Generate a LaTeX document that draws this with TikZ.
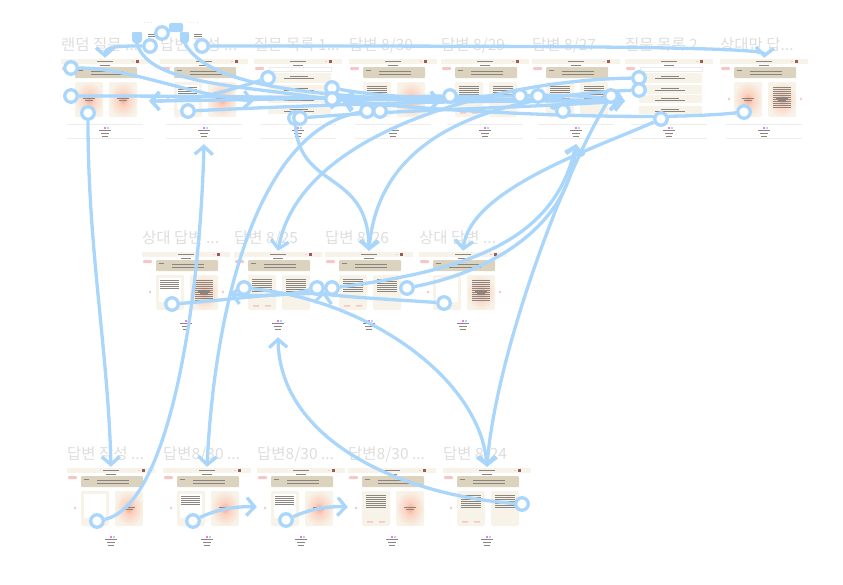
\documentclass[tikz,border=0pt]{standalone}
\usepackage{fontspec}
\setmainfont{Noto Sans CJK KR}
\usetikzlibrary{arrows.meta,backgrounds}
\definecolor{linkblue}{HTML}{A9D6FA}
\definecolor{cardcream}{HTML}{F8F3E8}
\definecolor{bartan}{HTML}{DCD3BF}
\definecolor{glowred}{HTML}{FBA98F}
\definecolor{glowmid}{HTML}{FBD3C2}
\definecolor{tagpink}{HTML}{F7C6C6}
\definecolor{titlegray}{HTML}{DDDDDD}
\definecolor{inkgray}{HTML}{8A857E}
\definecolor{badgered}{HTML}{9A5B5B}
\pgfdeclareradialshading{cardshade}{\pgfpoint{0bp}{0bp}}{color(0bp)=(glowred);color(9bp)=(glowmid);color(26bp)=(cardcream);color(50bp)=(cardcream)}

\newcommand{\tanbox}{\fill[bartan,rounded corners=1pt] (14,8) rectangle (76,19);
  \draw[tiny] (17,11)--(22,11) (30,12.5)--(62,12.5) (30,15)--(62,15);}
\newcommand{\cardglow}[1]{\shade[shading=cardshade,rounded corners=2pt] (#1,23) rectangle ++(28,35);
  \draw[tiny] (#1+8,39)--(#1+20,39) (#1+10,41)--(#1+18,41);}
\newcommand{\cardtext}[1]{\fill[cardcream,rounded corners=2pt] (#1,23) rectangle ++(28,35);
  \foreach \yy in {27,29,...,39} {\draw[tiny] (#1+4,\yy)--(#1+24,\yy);}}
\newcommand{\cardtag}[1]{\cardtext{#1}
  \fill[tagpink] (#1+5,53) rectangle ++(6,1.6) (#1+17,53) rectangle ++(6,1.6);}
\newcommand{\cardblank}[1]{\fill[cardcream,rounded corners=2pt] (#1,23) rectangle ++(28,35);
  \fill[white] (#1+3,26) rectangle ++(22,24);}
\newcommand{\cardinset}[1]{\cardblank{#1}
  \foreach \yy in {28,30,...,36} {\draw[tiny] (#1+4,\yy)--(#1+23,\yy);}}
\newcommand{\cardhot}[1]{\cardglow{#1}
  \foreach \yy in {28,30,...,48} {\draw[tiny] (#1+5,\yy)--(#1+23,\yy);}}
\newcommand{\listrows}{\draw[black!8,line width=.3pt] (15,8) rectangle (77,12);
  \foreach \ya/\yb in {14/24,26/35,36/44,47/55} {
    \fill[cardcream] (14,\ya) rectangle (77,\yb);
    \draw[tiny] (36,\ya+3)--(54,\ya+3) (30,\ya+5.5)--(60,\ya+5.5);}}
\newcommand{\dotmark}[1]{\fill[tagpink] (#1,40) circle (1.4);}
\newcommand{\footrule}{\draw[black!7,line width=.4pt] (6,65)--(82,65) (6,79)--(82,79);}

% name, x, y, title, what stands inside
\newcommand{\screen}[5]{
  \begin{scope}[shift={(#2,#3)}]
    \node[frame] (#1) at (44,42) {};
    \node[frametitle] at (0,-14) {#4};
    \fill[cardcream] (0,0) rectangle (88,4.5);
    \draw[tiny] (36,2.2)--(52,2.2) (39,6)--(49,6);
    \fill[tagpink] (71,1.5) rectangle ++(2,1.5);
    \fill[badgered] (75,1) rectangle ++(2.5,2.5);
    \fill[tagpink,rounded corners=1pt] (1,8) rectangle (10,11);
    #5
    \fill[tagpink!60!magenta] (42.5,67.5) rectangle ++(2,2);
    \fill[linkblue] (46,67.5) rectangle ++(1.5,2);
    \draw[tiny] (38,71)--(50,71) (40,74.5)--(48,74.5) (41,77.5)--(47,77.5);
  \end{scope}}

\tikzset{
  frame/.style={rectangle,minimum width=88pt,minimum height=86pt,inner sep=0pt},
  frametitle/.style={anchor=west,inner sep=0pt,text=titlegray,font=\fontsize{15.5}{15.5}\selectfont},
  tiny/.style={inkgray,line width=.35pt},
  hotspot/.style={circle,draw=linkblue,fill=white,line width=3.3pt,minimum size=12.5pt,inner sep=0pt},
  link/.style={draw=linkblue,line width=3.3pt,-{Straight Barb[length=8pt,width=18pt]}},
  flagbox/.style={rectangle,fill=linkblue,rounded corners=2pt,inner sep=0pt,minimum width=14pt,minimum height=9pt},
  dots/.style={text=black!35,font=\fontsize{6}{6}\selectfont,inner sep=0pt}
}

\begin{document}
\begin{tikzpicture}[x=1pt,y=-1pt]
  \useasboundingbox (0,0) rectangle (843,584);

  % hot spots, on top of everything
  \node[hotspot] (ha) at (71,68) {};
  \node[hotspot] (hb) at (71,96) {};
  \node[hotspot] (hc) at (88,113) {};
  \node[hotspot] (hd) at (150,46) {};
  \node[hotspot] (he) at (202,46) {};
  \node[hotspot] (hf) at (162,33) {};
  \node[hotspot] (hg) at (188,111) {};
  \node[hotspot] (hh) at (268,78) {};
  \node[hotspot] (hi) at (295,118) {};
  \node[hotspot] (hj) at (300,118) {};
  \node[hotspot] (hk) at (332,88) {};
  \node[hotspot] (hl) at (332,99) {};
  \node[hotspot] (hm) at (367,111) {};
  \node[hotspot] (hn) at (380,111) {};
  \node[hotspot] (ho) at (450,96) {};
  \node[hotspot] (hp) at (520,96) {};
  \node[hotspot] (hq) at (538,96) {};
  \node[hotspot] (hr) at (563,111) {};
  \node[hotspot] (hs) at (611,96) {};
  \node[hotspot] (ht) at (639,78) {};
  \node[hotspot] (hu) at (639,90) {};
  \node[hotspot] (hv) at (661,119) {};
  \node[hotspot] (hw) at (744,112) {};
  \node[hotspot] (hx) at (172,304) {};
  \node[hotspot] (hy) at (244,288) {};
  \node[hotspot] (hz) at (317,288) {};
  \node[hotspot] (ia) at (332,288) {};
  \node[hotspot] (ib) at (407,288) {};
  \node[hotspot] (ic) at (444,303) {};
  \node[hotspot] (id) at (97,521) {};
  \node[hotspot] (ie) at (193,521) {};
  \node[hotspot] (if) at (286,520) {};
  \node[hotspot] (ig) at (522,504) {};

  \begin{scope}[on background layer]
    % top row
    \screen{rand}{61}{59}{랜덤 질문 ...}{\tanbox\cardglow{14}\cardglow{48}\footrule}
    \screen{write}{160}{59}{답변 작성 ...}{\tanbox\cardinset{14}\cardglow{48}\dotmark{8}\footrule}
    \screen{lista}{254}{59}{질문 목록 1...}{\listrows\footrule}
    \screen{ans30}{349}{59}{답변 8/30}{\tanbox\cardtext{14}\cardglow{48}\dotmark{8}\footrule}
    \screen{ans29}{441}{59}{답변 8/29}{\tanbox\cardtag{14}\cardtext{48}\footrule}
    \screen{ans27}{532}{59}{답변 8/27}{\tanbox\cardtext{14}\cardtext{48}\footrule}
    \screen{listb}{625}{59}{질문 목록 2}{\listrows\footrule}
    \screen{only}{720}{59}{상대만 답...}{\tanbox\cardglow{14}\cardhot{48}\dotmark{9}\dotmark{81}\footrule}
    % middle row
    \screen{oppa}{142}{252}{상대 답변 ...}{\tanbox\cardinset{14}\cardhot{48}\dotmark{8}\dotmark{81}}
    \screen{ans25}{234}{252}{답변 8/25}{\tanbox\cardtag{14}\cardtext{48}}
    \screen{ans26}{325}{252}{답변 8/26}{\tanbox\cardtag{14}\cardtext{48}}
    \screen{oppb}{419}{252}{상대 답변 ...}{\tanbox\cardblank{14}\cardhot{48}\dotmark{9}\dotmark{81}}
    % bottom row
    \screen{wra}{67}{468}{답변 작성 ...}{\tanbox\cardblank{14}\cardglow{48}\dotmark{8}}
    \screen{wrb}{163}{468}{답변8/30 ...}{\tanbox\cardinset{14}\cardglow{48}\dotmark{8}}
    \screen{wrc}{257}{468}{답변8/30 ...}{\tanbox\cardinset{14}\cardglow{48}\dotmark{8}}
    \screen{wrd}{348}{468}{답변8/30 ...}{\tanbox\cardtag{14}\cardglow{48}\dotmark{8}}
    \screen{ans24}{443}{468}{답변 8/24}{\tanbox\cardtag{14}\cardtext{48}\dotmark{8}}

    % flow starts
    \node[dots] at (148,23) {. . .};
    \node[dots] at (194,23) {. . .};
    \draw[tiny] (148,34)--(156,34) (148,36)--(156,36) (194,34)--(202,34) (194,36)--(202,36);
    \fill[linkblue,rounded corners=1pt] (132,32) -- (142,32) -- (142,41) -- (137,45) -- (132,41) -- cycle;
    \fill[linkblue,rounded corners=1pt] (180,32) -- (189,32) -- (189,41) -- (185,45) -- (180,41) -- cycle;
    \node[flagbox] (pill) at (176,27.5) {};
    \coordinate (flaga) at (137,44);
    \coordinate (flagb) at (185,44);

    % links
    \draw[link] (hd) .. controls (120,46) and (105,46) .. (rand.north);
    \draw[link] (he) .. controls (500,46) and (765,46) .. (only.north);
    \draw[link,-] (hf) -- (pill);
    \draw[link] (flaga) .. controls (150,85) and (240,85) .. (lista.east);
    \draw[link] (flagb) .. controls (210,85) and (300,95) .. (ans29.west);
    \draw[link] (ha) .. controls (130,68) and (190,95) .. (lista.west);
    \draw[link] (hb) .. controls (200,96) and (320,97) .. (ans29.west);
    \draw[link] (hc) .. controls (88,250) and (108,350) .. (wra.north);
    \draw[link] (id) .. controls (170,505) and (200,300) .. (write.south);
    \draw[link] (hg) .. controls (300,106) and (430,100) .. (ans27.east);
    \draw[link] (hh) .. controls (215,95) and (190,101) .. (rand.east);
    \draw[link] (hk) .. controls (400,100) and (480,100) .. (ans27.east);
    \draw[link] (hl) .. controls (420,99) and (540,99) .. (listb.west);
    \draw[link] (hi) .. controls (300,190) and (368,170) .. (ans26.north);
    \draw[link] (hj) .. controls (400,110) and (520,108) .. (listb.west);
    \draw[link] (hm) .. controls (260,130) and (215,300) .. (wrb.north);
    \draw[link] (hn) .. controls (370,108) and (358,103) .. (lista.east);
    \draw[link] (ho) .. controls (410,96) and (380,100) .. (lista.east);
    \draw[link] (hp) .. controls (560,94) and (600,97) .. (listb.west);
    \draw[link] (hq) .. controls (400,96) and (250,100) .. (rand.east);
    \draw[link] (hr) .. controls (550,107) and (540,104) .. (ans27.east);
    \draw[link] (hs) .. controls (560,180) and (495,360) .. (ans24.north);
    \draw[link] (ht) .. controls (500,80) and (300,130) .. (ans25.north);
    \draw[link] (hu) .. controls (520,95) and (380,120) .. (ans26.north);
    \draw[link] (hv) .. controls (590,150) and (470,190) .. (oppb.north);
    \draw[link] (hw) .. controls (650,122) and (450,112) .. (lista.east);
    \draw[link] (hx) .. controls (230,300) and (280,292) .. (ans26.west);
    \draw[link] (hy) .. controls (370,300) and (480,380) .. (ans24.north);
    \draw[link] (hz) .. controls (290,295) and (260,297) .. (oppa.east);
    \draw[link] (ia) .. controls (470,270) and (555,240) .. (ans27.south);
    \draw[link] (ib) .. controls (500,270) and (570,220) .. (ans27.south);
    \draw[link] (ic) .. controls (400,300) and (360,298) .. (ans25.east);
    \draw[link] (ie) .. controls (215,510) and (235,506) .. ([yshift=3pt]wrc.west);
    \draw[link] (if) .. controls (308,510) and (325,506) .. ([yshift=3pt]wrd.west);
    \draw[link] (ig) .. controls (400,495) and (280,440) .. (ans25.south);
  \end{scope}
\end{tikzpicture}
\end{document}
